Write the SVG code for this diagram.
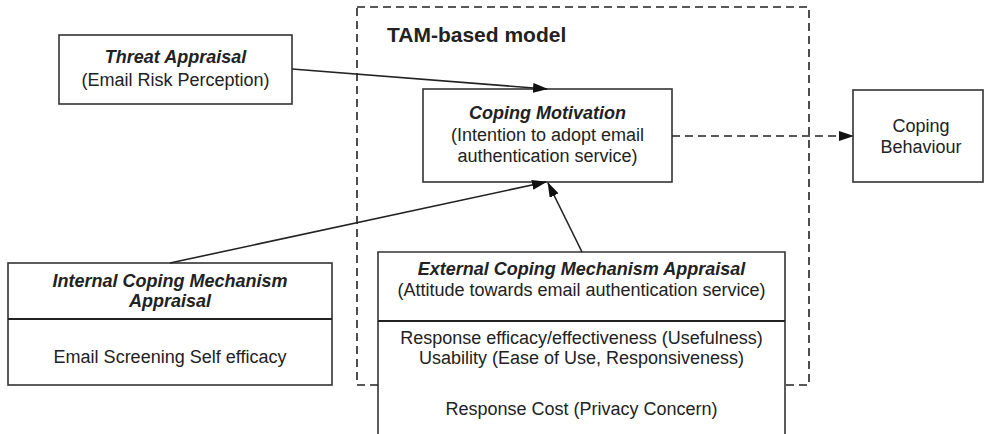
<svg xmlns="http://www.w3.org/2000/svg" width="985" height="434" viewBox="0 0 985 434">
<style>
.box{fill:#fff;stroke:#333;stroke-width:1.6}
.div{stroke:#222;stroke-width:2;fill:none}
.dash{stroke:#222;stroke-width:1.6;fill:none;stroke-dasharray:8 5}
.t{font-family:"Liberation Sans",Arial,sans-serif;font-size:18px;fill:#222;text-anchor:middle}
.h{font-weight:bold;font-style:italic}
.con{stroke:#222;stroke-width:1.6;fill:none}
</style>
<defs>
<marker id="ah" markerUnits="userSpaceOnUse" markerWidth="15" markerHeight="10" refX="14" refY="5" orient="auto">
<path d="M0,0 L15,5 L0,10 z" fill="#111"/>
</marker>
</defs>
<rect width="985" height="434" fill="#fff"/>
<g id="tam">
<rect x="357" y="7" width="452" height="378" fill="none" class="dash"/>
<text x="387" y="42" style="font-family:'Liberation Sans',Arial,sans-serif;font-size:21px;font-weight:bold;fill:#222">TAM-based model</text>
</g>
<g id="threat">
<rect class="box" x="59" y="35" width="233" height="69"/>
<text class="t h" x="175.5" y="63">Threat Appraisal</text>
<text class="t" x="175.5" y="86">(Email Risk Perception)</text>
</g>
<g id="motivation">
<rect class="box" x="423" y="89" width="249" height="93"/>
<text class="t h" x="547.5" y="119">Coping Motivation</text>
<text class="t" x="547.5" y="141">(Intention to adopt email</text>
<text class="t" x="547.5" y="162">authentication service)</text>
</g>
<g id="behaviour">
<rect class="box" x="853" y="90" width="130" height="92"/>
<text class="t" x="921" y="132">Coping</text>
<text class="t" x="921" y="153">Behaviour</text>
</g>
<g id="internal">
<rect class="box" x="8" y="263" width="324" height="122"/>
<line class="div" x1="8" y1="319" x2="332" y2="319"/>
<text class="t h" x="170" y="287">Internal Coping Mechanism</text>
<text class="t h" x="170" y="307">Appraisal</text>
<text class="t" x="170" y="363">Email Screening Self efficacy</text>
</g>
<g id="external">
<path class="box" d="M378,440 L378,252 L785,252 L785,440"/>
<line class="div" x1="378" y1="321" x2="785" y2="321"/>
<text class="t h" x="581.5" y="275">External Coping Mechanism Appraisal</text>
<text class="t" x="581.5" y="296">(Attitude towards email authentication service)</text>
<text class="t" x="581.5" y="344">Response efficacy/effectiveness (Usefulness)</text>
<text class="t" x="581.5" y="364">Usability (Ease of Use, Responsiveness)</text>
<text class="t" x="581.5" y="415">Response Cost (Privacy Concern)</text>
</g>
<g id="connectors">
<line class="con" x1="292" y1="69" x2="547" y2="89" marker-end="url(#ah)"/>
<line class="con" x1="170" y1="263" x2="546" y2="182" marker-end="url(#ah)"/>
<line class="con" x1="582" y1="252" x2="548" y2="183" marker-end="url(#ah)"/>
<line class="dash" x1="672" y1="136" x2="853" y2="136" marker-end="url(#ah)"/>
</g>
</svg>
